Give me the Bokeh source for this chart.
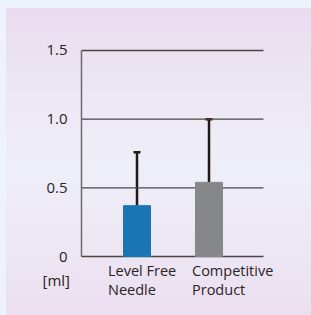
from bokeh.plotting import figure
from bokeh.models import (ColumnDataSource, Range1d, Whisker, TeeHead, GlobalInlineStyleSheet)
from bokeh.core.properties import value
from bokeh.embed import file_html
from bokeh.resources import INLINE

# data
categories = ["Level Free Needle", "Competitive Product"]
cat_labels = ["Level Free\nNeedle", "Competitive\nProduct"]
means = [0.37, 0.54]
errors = [0.39, 0.46]
y_ticks = [0, 0.5, 1.0, 1.5]
y_tick_labels = ["0", "0.5", "1.0", "1.5"]
unit_label = "[ml]"

# layout / style constants
bar_colors = ["#1b75b5", "#858789"]
label_dx = [-29, -17]
AXIS_X = -0.771      # x position (data units) of the value axis
GRID_END = 1.757     # right end of the grid lines
FONT = "Open Sans"
TXT = "#2a2223"

xs = list(range(len(categories)))
upper = [m + e for m, e in zip(means, errors)]
base = [0 for _ in categories]

src = ColumnDataSource(dict(x=xs, cat=categories, mean=means, upper=upper, color=bar_colors,
                            label=cat_labels, dx=label_dx, base=base))

p = figure(width=305, height=307, x_range=Range1d(-1.8125, 2.4236),
           y_range=Range1d(-0.4296, 1.8058), output_backend="svg", toolbar_location=None,
           min_border=0)

p.styles = {"background": "linear-gradient(to bottom, #e9dcee 0%, #eeedf7 45%, #eeeef8 55%, #ebdfef 100%)",
            "margin-left": "6px", "margin-top": "8px"}
p.stylesheets = [GlobalInlineStyleSheet(css="body{background:#eef3fb;}")]
p.background_fill_color = None
p.border_fill_color = None
p.outline_line_color = None
p.axis.visible = False
p.grid.visible = False

# grid lines
p.segment(x0=AXIS_X, x1=GRID_END, y0=y_ticks, y1=y_ticks, line_color="#4a4446", line_width=1.3)

# bars
p.vbar(x="x", top="mean", width=0.375, color="color", source=src)

# value axis line
p.segment(x0=AXIS_X, x1=AXIS_X, y0=y_ticks[0], y1=y_ticks[-1], line_color="#6e6a6c", line_width=1.5)

# error bars
w = Whisker(base="x", lower="mean", upper="upper", source=src,
            line_color="#231815", line_width=2.5,
            upper_head=TeeHead(size=7, line_width=2.5, line_color="#231815"),
            lower_head=None)
p.add_layout(w)

# tick labels
p.text(x=AXIS_X, y=y_ticks, text=y_tick_labels, x_offset=-14, text_align="right",
       text_baseline="middle", text_font=value(FONT), text_font_size="15px", text_color=TXT)

# unit label
p.text(x=[AXIS_X], y=[y_ticks[0]], text=[unit_label], x_offset=-39, y_offset=23, text_align="left",
       text_baseline="middle", text_font=value(FONT), text_font_size="15px", text_color=TXT)

# category labels
p.text(x="x", y="base", text="label", source=src, x_offset="dx", y_offset=4,
       text_align="left", text_baseline="top", text_font=value(FONT),
       text_font_size="14.5px", text_color=TXT, text_line_height=1.05)

open("out.html", "w").write(file_html(p, INLINE))
